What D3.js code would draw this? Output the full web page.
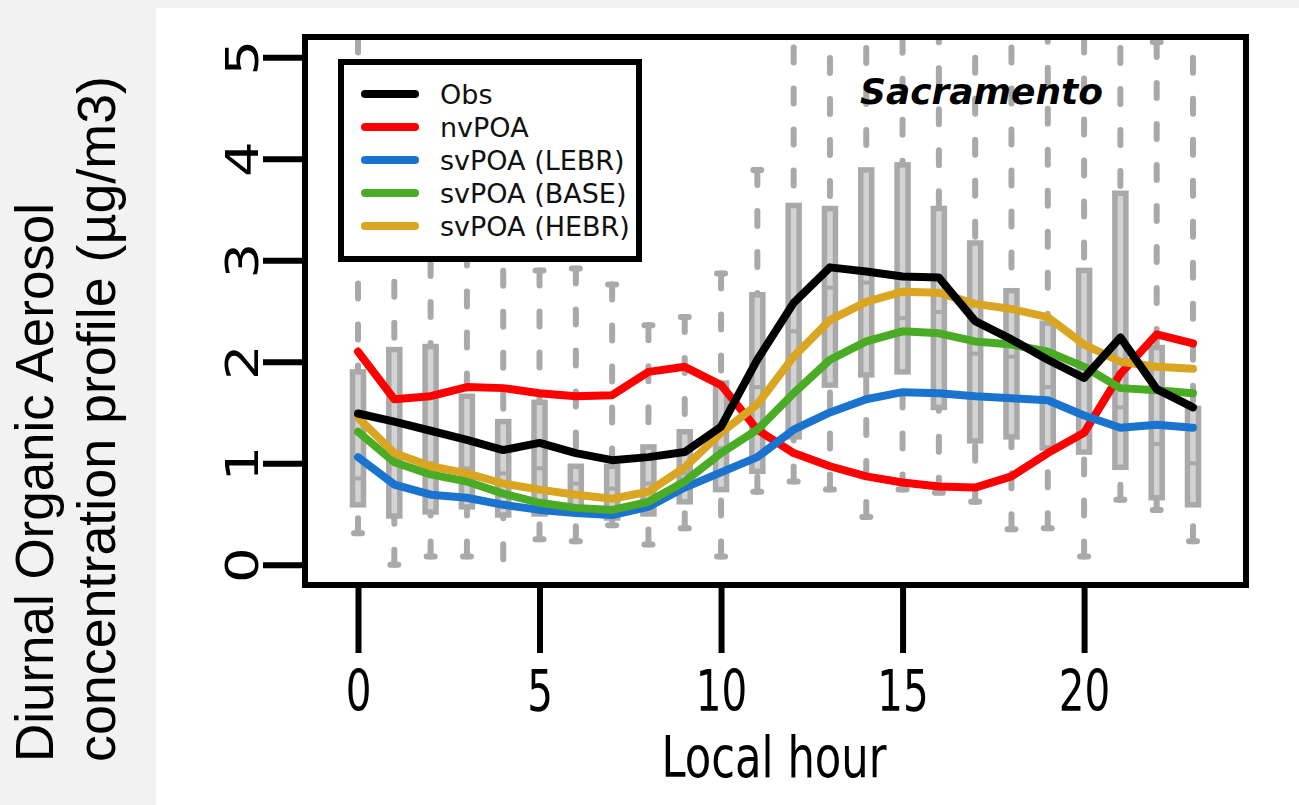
<!DOCTYPE html>
<html>
<head>
<meta charset="utf-8">
<script src="https://cdn.jsdelivr.net/npm/d3@7"></script>
<style>
	html, body { margin: 0; padding: 0; background: #f2f2f2; }
	svg { display: block; }
</style>
</head>
<body>
<div id="chart"></div>
<script>
// Hours of the day (categories)
var hours = [0, 1, 2, 3, 4, 5, 6, 7, 8, 9, 10, 11, 12, 13, 14, 15, 16, 17, 18, 19, 20, 21, 22, 23];

// Mean diurnal profiles (ug/m3)
var obs   = [1.49, 1.41, 1.32, 1.23, 1.13, 1.20, 1.10, 1.03, 1.06, 1.11, 1.36, 2.02, 2.58, 2.93, 2.89, 2.84, 2.83, 2.40, 2.22, 2.02, 1.84, 2.24, 1.73, 1.55];
var nvPOA = [2.10, 1.63, 1.66, 1.75, 1.74, 1.69, 1.66, 1.67, 1.90, 1.95, 1.77, 1.33, 1.10, 0.97, 0.87, 0.81, 0.77, 0.76, 0.87, 1.10, 1.30, 1.88, 2.27, 2.18];
var lebr  = [1.06, 0.79, 0.69, 0.66, 0.59, 0.54, 0.51, 0.49, 0.57, 0.76, 0.91, 1.06, 1.33, 1.50, 1.63, 1.70, 1.69, 1.66, 1.64, 1.62, 1.47, 1.35, 1.38, 1.35];
var base  = [1.31, 1.01, 0.89, 0.82, 0.70, 0.61, 0.56, 0.54, 0.62, 0.82, 1.10, 1.33, 1.69, 2.02, 2.20, 2.30, 2.28, 2.20, 2.17, 2.10, 1.95, 1.74, 1.72, 1.69];
var hebr  = [1.45, 1.10, 0.97, 0.90, 0.80, 0.74, 0.69, 0.65, 0.72, 0.96, 1.30, 1.58, 2.05, 2.41, 2.59, 2.69, 2.68, 2.57, 2.52, 2.44, 2.17, 2.00, 1.95, 1.93];

// Observed distribution per hour (box plots)
var whiskerLo = [0.31, 0.00, 0.08, 0.08, -0.35, 0.25, 0.23, 0.39, 0.20, 0.36, 0.08, 0.72, 0.82, 0.74, 0.47, 0.74, 0.71, 0.62, 0.35, 0.36, 0.08, 0.64, 0.54, 0.23];
var q1        = [0.59, 0.48, 0.52, 0.57, 0.49, 0.50, 0.55, 0.46, 0.50, 0.62, 0.74, 0.92, 1.26, 1.77, 1.87, 1.90, 1.55, 1.22, 1.26, 1.15, 1.11, 0.96, 0.66, 0.59];
var median    = [0.85, 1.05, 1.00, 0.95, 0.90, 0.95, 0.80, 0.75, 0.80, 0.90, 1.15, 1.75, 2.30, 2.73, 2.78, 2.43, 2.49, 2.08, 2.05, 1.75, 1.30, 1.55, 1.19, 1.00];
var q3        = [1.90, 2.12, 2.15, 1.66, 1.41, 1.60, 0.97, 0.97, 1.16, 1.31, 1.79, 2.66, 3.54, 3.51, 3.89, 3.94, 3.51, 3.17, 2.70, 2.38, 2.90, 3.66, 2.14, 1.54];
var whiskerHi = [5.60, 4.00, 3.80, 3.50, 3.30, 2.90, 2.92, 2.76, 2.36, 2.44, 2.87, 3.89, 5.50, 5.80, 5.90, 6.00, 5.70, 5.40, 5.50, 5.30, 5.60, 5.90, 5.15, 5.40];

// Legend
var seriesNames  = ["Obs", "nvPOA", "svPOA (LEBR)", "svPOA (BASE)", "svPOA (HEBR)"];
var seriesColors = ["#000000", "#ff0000", "#1a74cf", "#4aab24", "#daa520"];
var seriesValues = [obs, nvPOA, lebr, base, hebr];

// Axis ticks
var xTicks = [0, 5, 10, 15, 20];
var yTicks = [0, 1, 2, 3, 4, 5];

var W = 1299, H = 805;
var plot = { left: 305, right: 1246, top: 37, bottom: 585 };
var gray = "#a9a9a9", lightGray = "#d3d3d3";

var svg = d3.select("#chart").append("svg")
	.attr("width", W)
	.attr("height", H);

// page background + white panel
svg.append("rect").attr("width", W).attr("height", H).attr("fill", "#f2f2f2");
svg.append("rect").attr("x", 156).attr("y", 8).attr("width", W - 156).attr("height", H - 8).attr("fill", "#ffffff");

var x = d3.scaleLinear().domain([-1.46, 24.46]).range([plot.left, plot.right]);
var y = d3.scaleLinear().domain([-0.2, 5.2]).range([plot.bottom, plot.top]);

svg.append("clipPath").attr("id", "plotClip")
	.append("rect")
	.attr("x", plot.left).attr("y", plot.top)
	.attr("width", plot.right - plot.left).attr("height", plot.bottom - plot.top);

var g = svg.append("g").attr("clip-path", "url(#plotClip)");

// ---- box plots ----
var boxes = g.selectAll("g.box").data(hours).enter().append("g").attr("class", "box");

// whiskers are drawn from their end toward the box (dash phase starts at the cap)
boxes.append("line")
	.attr("x1", function (d) { return x(d); }).attr("x2", function (d) { return x(d); })
	.attr("y1", function (d, i) { return y(whiskerHi[i]); })
	.attr("y2", function (d, i) { return y(q3[i]); })
	.attr("stroke", gray).attr("stroke-width", 6)
	.attr("stroke-linecap", "round").attr("stroke-dasharray", "15,26");
boxes.append("line")
	.attr("x1", function (d) { return x(d); }).attr("x2", function (d) { return x(d); })
	.attr("y1", function (d, i) { return y(whiskerLo[i]); })
	.attr("y2", function (d, i) { return y(q1[i]); })
	.attr("stroke", gray).attr("stroke-width", 6)
	.attr("stroke-linecap", "round").attr("stroke-dasharray", "15,26");

// staples
[whiskerHi, whiskerLo].forEach(function (arr) {
	boxes.append("line")
		.attr("x1", function (d) { return x(d) - 4; }).attr("x2", function (d) { return x(d) + 4; })
		.attr("y1", function (d, i) { return y(arr[i]); })
		.attr("y2", function (d, i) { return y(arr[i]); })
		.attr("stroke", gray).attr("stroke-width", 6).attr("stroke-linecap", "round");
});

boxes.append("rect")
	.attr("x", function (d) { return x(d) - 5.5; })
	.attr("width", 11)
	.attr("y", function (d, i) { return y(q3[i]); })
	.attr("height", function (d, i) { return y(q1[i]) - y(q3[i]); })
	.attr("fill", lightGray).attr("stroke", gray).attr("stroke-width", 5.5);

boxes.append("line")
	.attr("x1", function (d) { return x(d) - 5; }).attr("x2", function (d) { return x(d) + 5; })
	.attr("y1", function (d, i) { return y(median[i]); })
	.attr("y2", function (d, i) { return y(median[i]); })
	.attr("stroke", gray).attr("stroke-width", 4);

// ---- model / obs lines ----
var line = d3.line()
	.x(function (d, i) { return x(hours[i]); })
	.y(function (d) { return y(d); });

// draw so that Obs ends on top
[1, 2, 3, 4, 0].forEach(function (k) {
	g.append("path")
		.attr("d", line(seriesValues[k]))
		.attr("fill", "none")
		.attr("stroke", seriesColors[k])
		.attr("stroke-width", 8)
		.attr("stroke-linejoin", "round")
		.attr("stroke-linecap", "round");
});

// ---- legend ----
var legend = svg.append("g");
legend.append("rect")
	.attr("x", 341).attr("y", 62).attr("width", 298).attr("height", 197)
	.attr("fill", "#ffffff").attr("stroke", "#000").attr("stroke-width", 6);

var rows = legend.selectAll("g.row").data(seriesNames).enter().append("g")
	.attr("class", "row")
	.attr("transform", function (d, i) { return "translate(0," + (94 + i * 33) + ")"; });
rows.append("line")
	.attr("x1", 365).attr("x2", 415).attr("y1", 0).attr("y2", 0)
	.attr("stroke", function (d, i) { return seriesColors[i]; })
	.attr("stroke-width", 8).attr("stroke-linecap", "round");
rows.append("text")
	.attr("x", 440).attr("y", 10)
	.attr("font-family", "DejaVu Sans").attr("font-size", 27)
	.attr("fill", "#111")
	.text(function (d) { return d; });

// site label
svg.append("text")
	.attr("x", 860).attr("y", 104)
	.attr("font-family", "DejaVu Sans").attr("font-size", 36)
	.attr("font-weight", "bold").attr("font-style", "italic")
	.attr("textLength", 243).attr("lengthAdjust", "spacingAndGlyphs")
	.text("Sacramento");

// ---- axes ----
var yAxis = svg.append("g")
	.attr("transform", "translate(" + plot.left + ",0)")
	.call(d3.axisLeft(y).tickValues(yTicks).tickSize(42).tickSizeOuter(0).tickFormat(d3.format("d")));
yAxis.select(".domain").remove();
yAxis.selectAll(".tick line").attr("stroke", "#000").attr("stroke-width", 6);
yAxis.selectAll(".tick text")
	.attr("x", null).attr("dy", null)
	.attr("text-anchor", "middle")
	.attr("font-family", "DejaVu Sans").attr("font-size", 56)
	.attr("fill", "#000")
	.attr("transform", "translate(-47,0) scale(0.78,1) rotate(-90)");

var xAxis = svg.append("g")
	.attr("transform", "translate(0," + plot.bottom + ")")
	.call(d3.axisBottom(x).tickValues(xTicks).tickSize(68).tickSizeOuter(0));
xAxis.select(".domain").remove();
xAxis.selectAll(".tick line").attr("stroke", "#000").attr("stroke-width", 6);
xAxis.selectAll(".tick text")
	.attr("y", null).attr("dy", null)
	.attr("text-anchor", "middle")
	.attr("font-family", "DejaVu Sans").attr("font-size", 57)
	.attr("fill", "#000")
	.attr("transform", "translate(0,126) scale(0.71,1)");

// axis title
svg.append("text")
	.attr("transform", "translate(774,777) scale(0.76,1)")
	.attr("text-anchor", "middle")
	.attr("font-family", "DejaVu Sans").attr("font-size", 57)
	.text("Local hour");

// plot frame
svg.append("rect")
	.attr("x", plot.left).attr("y", plot.top)
	.attr("width", plot.right - plot.left).attr("height", plot.bottom - plot.top)
	.attr("fill", "none").attr("stroke", "#000").attr("stroke-width", 6);

// y title (outside panel, two lines)
var yTitle = ["Diurnal Organic Aerosol", "concentration profile (\u00b5g/m3)"];
var yTitleLen = [559, 686];
svg.selectAll("text.ytitle").data(yTitle).enter().append("text")
	.attr("class", "ytitle")
	.attr("transform", function (d, i) { return "translate(" + (53 + i * 62) + ",762) rotate(-90)"; })
	.attr("font-family", "Liberation Sans").attr("font-size", 53)
	.attr("textLength", function (d, i) { return yTitleLen[i]; })
	.attr("lengthAdjust", "spacingAndGlyphs")
	.text(function (d) { return d; });
</script>
</body>
</html>
